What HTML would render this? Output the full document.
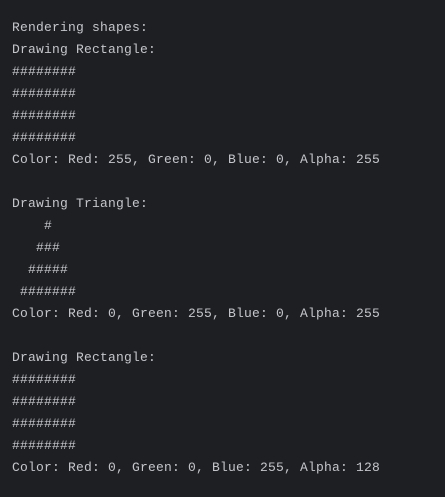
<!DOCTYPE html>
<html><head><meta charset="utf-8"><style>
html,body{margin:0;padding:0;background:#1e1f22;}
body{width:445px;height:497px;overflow:hidden;}
pre{margin:0;padding:17px 0 0 12px;font-family:"Liberation Mono",monospace;font-size:13px;letter-spacing:0.2px;line-height:22px;color:#c4c6cc;}
</style></head><body><pre>Rendering shapes:
Drawing Rectangle:
########
########
########
########
Color: Red: 255, Green: 0, Blue: 0, Alpha: 255

Drawing Triangle:
    #
   ###
  #####
 #######
Color: Red: 0, Green: 255, Blue: 0, Alpha: 255

Drawing Rectangle:
########
########
########
########
Color: Red: 0, Green: 0, Blue: 255, Alpha: 128</pre></body></html>
